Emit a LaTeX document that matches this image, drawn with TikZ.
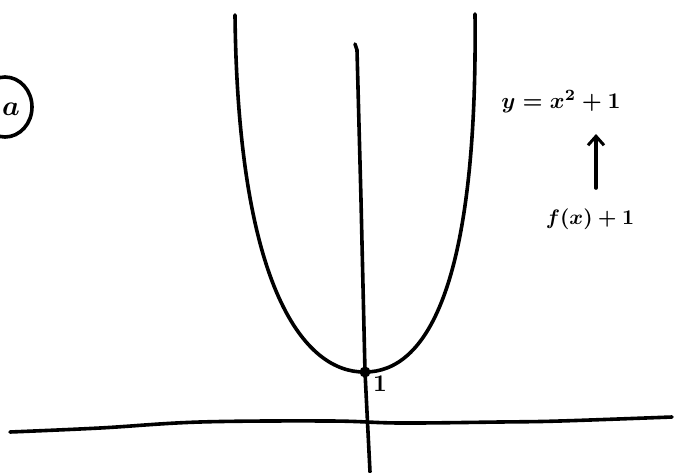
\documentclass[tikz,border=0pt]{standalone}
\usetikzlibrary{arrows.meta}
\begin{document}
\begin{tikzpicture}[x=1pt,y=-1pt,
  pen/.style={line width=3.6pt,line cap=round,line join=round,black},
  lbl/.style={inner sep=0pt,text=black,font=\boldmath\bfseries}]
\useasboundingbox (0,0) rectangle (678,472);
% x-axis
\coordinate (xL) at (10,432);
\coordinate (xR) at (672,417);
\draw[pen] plot[smooth,tension=0.6] coordinates {(10,432) (100,428) (200,422) (330,421) (400,423) (500,422) (560,421) (672,417)};
% y-axis
\coordinate (yT) at (357,50);
\coordinate (yB) at (370,472);
\draw[pen] (355,44) -- (yT) -- (361,200) -- (365,372) -- (yB);
% parabola
\coordinate (vtx) at (365,372);
\coordinate (pL) at (235,15);
\coordinate (pR) at (475,14);
\draw[pen] (pL) .. controls (238,290) and (305,373) .. (vtx)
           .. controls (425,372) and (478,290) .. (pR);
% vertex dot and label
\fill[black] (vtx) circle (5.5pt);
\node[lbl,scale=2.4] (one) at (380,384) {1};
% circled a
\node[lbl,scale=2.8] (ca) at (11,109) {$a$};
\draw[line width=3.6pt] (5,107) ellipse [x radius=27pt,y radius=30pt];
% equation
\node[lbl,scale=2.25] (eq) at (561,102) {$y=x^2+1$};
\node[lbl,scale=2.1] (fx) at (590,219) {$f(x)+1$};
\coordinate (aS) at (596,188);
\coordinate (aE) at (596,134);
\draw[pen,-{Straight Barb[length=9pt,width=16pt,line width=3pt]}] (aS) -- (aE);
\end{tikzpicture}
\end{document}
